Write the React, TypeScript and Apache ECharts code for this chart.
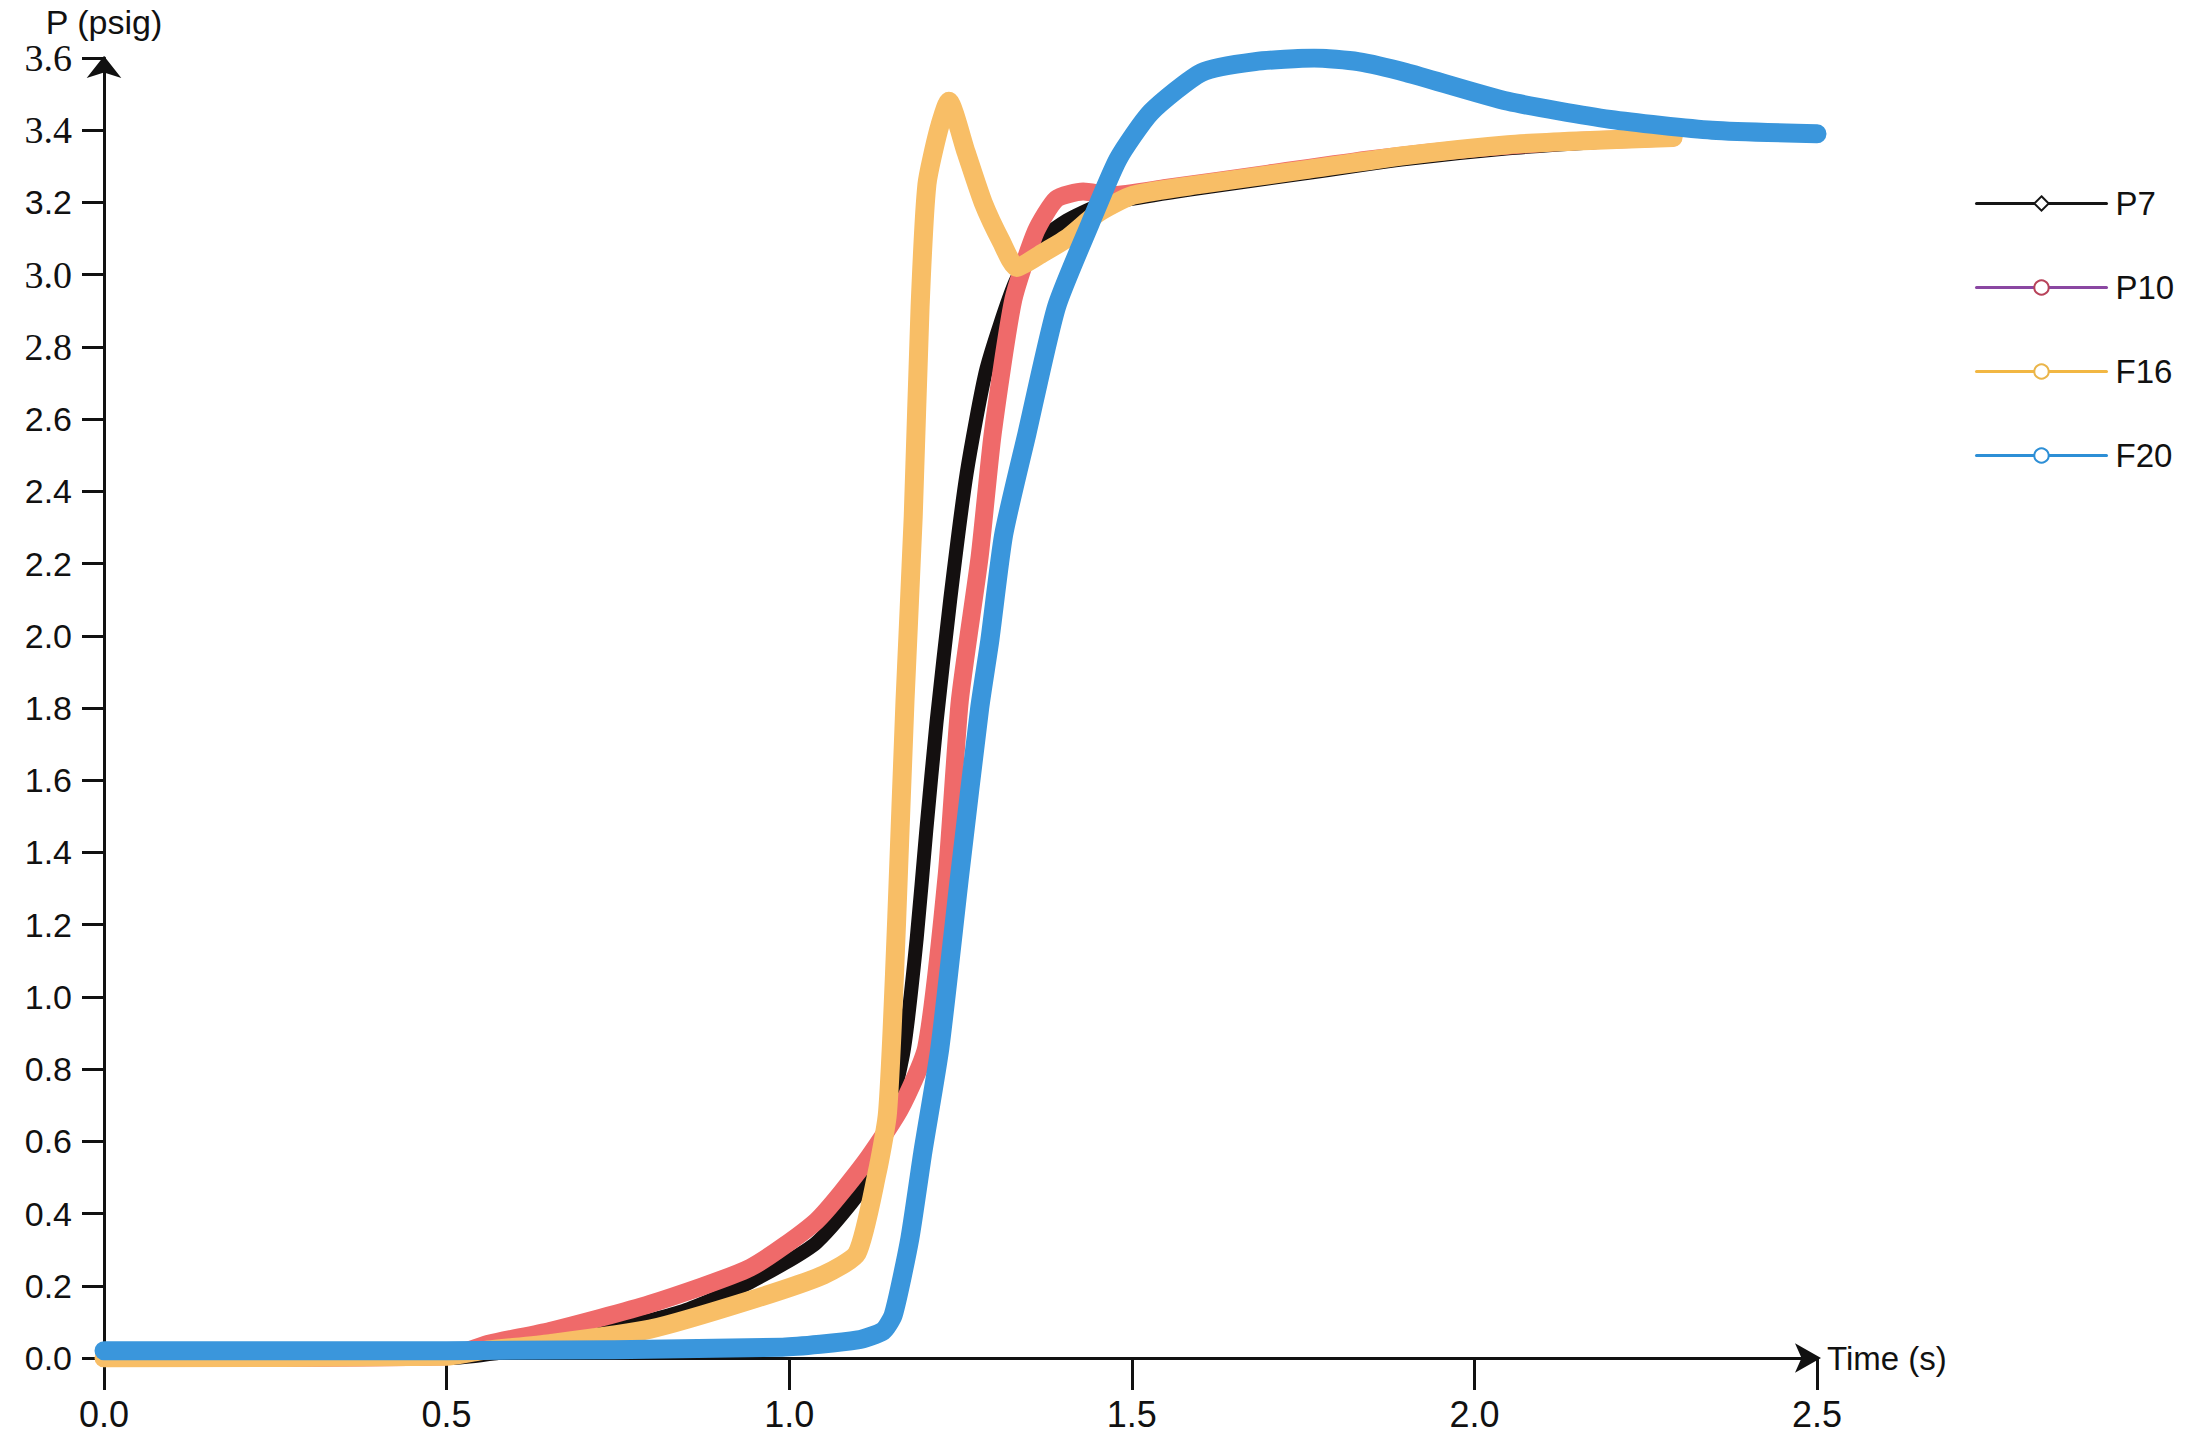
import React, { useEffect, useRef } from "react";
import * as echarts from "echarts";

const seriesNames = ["P7", "P10", "F16", "F20"];

const p7X = [0, 0.5, 0.6, 0.7, 0.845, 0.943, 1.04, 1.12, 1.166, 1.186, 1.2, 1.215, 1.235, 1.259, 1.288, 1.33, 1.37, 1.405, 1.45, 1.5, 1.6, 1.75, 1.9, 2.05, 2.2, 2.29];
const p7Y = [0, 0, 0.02, 0.06, 0.13, 0.21, 0.32, 0.51, 0.84, 1.16, 1.46, 1.76, 2.1, 2.45, 2.74, 2.98, 3.1, 3.15, 3.19, 3.21, 3.24, 3.28, 3.32, 3.35, 3.37, 3.38];

const p10X = [0, 0.5, 0.563, 0.651, 0.797, 0.943, 1.04, 1.11, 1.162, 1.2, 1.23, 1.249, 1.278, 1.297, 1.327, 1.36, 1.39, 1.429, 1.47, 1.55, 1.7, 1.85, 2.0, 2.15, 2.29];
const p10Y = [0, 0.005, 0.04, 0.075, 0.15, 0.25, 0.38, 0.54, 0.69, 0.86, 1.34, 1.82, 2.22, 2.56, 2.93, 3.12, 3.21, 3.23, 3.22, 3.24, 3.28, 3.32, 3.35, 3.37, 3.38];

const f16X = [0, 0.5, 0.55, 0.651, 0.797, 0.943, 1.05, 1.099, 1.128, 1.143, 1.15, 1.157, 1.169, 1.181, 1.191, 1.201, 1.218, 1.233, 1.258, 1.283, 1.31, 1.332, 1.37, 1.405, 1.45, 1.502, 1.6, 1.751, 1.9, 2.049, 2.15, 2.29];
const f16Y = [0, 0.005, 0.02, 0.04, 0.08, 0.16, 0.23, 0.29, 0.51, 0.67, 0.9, 1.22, 1.82, 2.33, 2.91, 3.25, 3.4, 3.48, 3.34, 3.2, 3.09, 3.02, 3.06, 3.1, 3.17, 3.22, 3.25, 3.29, 3.33, 3.36, 3.37, 3.38];

const f20X = [0, 0.5, 0.99, 1.1, 1.137, 1.152, 1.176, 1.195, 1.22, 1.249, 1.278, 1.293, 1.313, 1.347, 1.39, 1.439, 1.48, 1.528, 1.602, 1.68, 1.766, 1.83, 1.9, 2.049, 2.198, 2.347, 2.5];
const f20Y = [0.02, 0.02, 0.03, 0.05, 0.075, 0.12, 0.33, 0.57, 0.86, 1.34, 1.8, 1.99, 2.28, 2.56, 2.91, 3.14, 3.32, 3.45, 3.56, 3.59, 3.6, 3.59, 3.56, 3.48, 3.43, 3.4, 3.39];

const xMin = 0;
const xMax = 2.5;
const xStep = 0.5;
const yMin = 0;
const yMax = 3.6;
const yStep = 0.2;
const serifTickLabels = ["3.6", "3.4", "3.0", "2.8"];
const xAxisName = "Time (s)";
const yAxisName = "P (psig)";

const lineColors = ["#141010", "#ef6a6a", "#f8be66", "#3a96dc"];
const legendLineColors = ["#161616", "#8a47a2", "#f2b743", "#2d8fd6"];
const legendMarkColors = ["#161616", "#b8435a", "#eab54a", "#2d8fd6"];
const symbols = ["emptyDiamond", "emptyCircle", "emptyCircle", "emptyCircle"];
const widths = [14, 18, 19, 19];

const zip = (xs: number[], ys: number[]) => xs.map((x, i) => [x, ys[i]]);

export default function App() {
  const ref = useRef<HTMLDivElement>(null);
  useEffect(() => {
    if (!ref.current) return;
    const chart = echarts.init(ref.current, undefined, { renderer: "svg" });
    const datasets = [zip(p7X, p7Y), zip(p10X, p10Y), zip(f16X, f16Y), zip(f20X, f20Y)];
    const font = "Liberation Sans";
    chart.setOption({
      animation: false,
      backgroundColor: "#ffffff",
      grid: { left: 104, right: 376, top: 58, bottom: 90, containLabel: false },
      legend: {
        orient: "vertical",
        left: 1970,
        top: 182,
        itemWidth: 130,
        itemHeight: 18,
        itemGap: 51,
        textStyle: { fontFamily: font, fontSize: 33, color: "#111", padding: [0, 0, 0, 4] },
        data: seriesNames.map((n, i) => ({
          name: n,
          itemStyle: { color: legendMarkColors[i], borderColor: legendMarkColors[i], borderWidth: 2.5 },
          lineStyle: { color: legendLineColors[i], width: 3 },
        })),
      },
      xAxis: {
        type: "value",
        min: xMin,
        max: xMax,
        interval: xStep,
        name: xAxisName,
        nameLocation: "end",
        nameGap: 10,
        nameTextStyle: { fontFamily: font, fontSize: 33, color: "#111", verticalAlign: "middle" },
        splitLine: { show: false },
        axisLine: { show: true, lineStyle: { color: "#111", width: 3 }, symbol: ["none", "arrow"], symbolSize: [22, 26], symbolOffset: [0, 4] },
        axisTick: { show: true, inside: false, length: 32, lineStyle: { color: "#111", width: 3 } },
        axisLabel: {
          fontFamily: font,
          fontSize: 36,
          color: "#111",
          margin: 38,
          formatter: (v: number) => v.toFixed(1),
        },
      },
      yAxis: {
        type: "value",
        min: yMin,
        max: yMax,
        interval: yStep,
        name: yAxisName,
        nameLocation: "end",
        nameGap: 14,
        nameTextStyle: { fontFamily: font, fontSize: 34, color: "#111", align: "center", verticalAlign: "bottom" },
        splitLine: { show: false },
        axisLine: { show: true, lineStyle: { color: "#111", width: 3 }, symbol: ["none", "arrow"], symbolSize: [26, 22], symbolOffset: [0, 2] },
        axisTick: { show: true, inside: false, length: 22, lineStyle: { color: "#111", width: 3 } },
        axisLabel: {
          fontFamily: font,
          fontSize: 34,
          color: "#111",
          margin: 32,
          formatter: (v: number) => {
            const s = v.toFixed(1);
            return serifTickLabels.includes(s) ? `{s|${s}}` : s;
          },
          rich: { s: { fontFamily: "Liberation Serif", fontSize: 38, color: "#111" } },
        },
      },
      series: seriesNames.map((n, i) => ({
        name: n,
        type: "line",
        data: datasets[i],
        symbol: symbols[i],
        symbolSize: 10,
        showSymbol: false,
        smooth: 0.2,
        z: 2 + i,
        color: lineColors[i],
        lineStyle: { color: lineColors[i], width: widths[i], cap: "round", join: "round" },
        itemStyle: { color: legendMarkColors[i] },
      })),
    });
    return () => chart.dispose();
  }, []);
  return <div ref={ref} style={{ position: "absolute", left: 0, top: 0, width: 2193, height: 1448 }} />;
}
